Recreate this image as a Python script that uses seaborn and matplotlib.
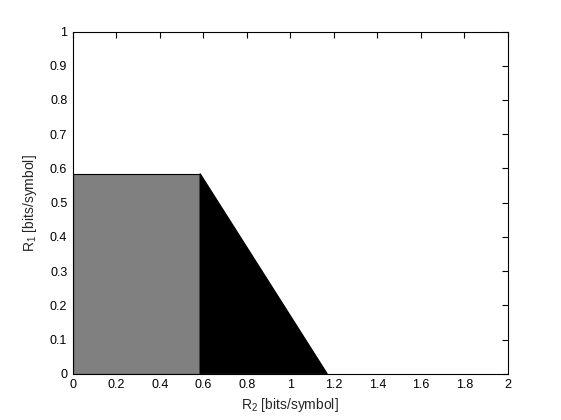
import matplotlib
matplotlib.use("Agg")
import matplotlib.pyplot as plt
import seaborn as sns
from matplotlib.ticker import FuncFormatter

# Data
rate_limit = 0.585          # log2(1.5)
sum_limit = 1.17            # 2 * rate_limit
gray_r2 = [0, rate_limit, rate_limit, 0]
gray_r1 = [0, 0, rate_limit, rate_limit]
black_r2 = [rate_limit, sum_limit, rate_limit]
black_r1 = [0, 0, rate_limit]
xticks = [0, 0.2, 0.4, 0.6, 0.8, 1, 1.2, 1.4, 1.6, 1.8, 2]
yticks = [0, 0.1, 0.2, 0.3, 0.4, 0.5, 0.6, 0.7, 0.8, 0.9, 1]

sns.set_style("white")
plt.rcParams['font.family'] = ['Liberation Sans', 'DejaVu Sans']
plt.rcParams['mathtext.fontset'] = 'custom'
plt.rcParams['mathtext.rm'] = 'Liberation Sans'
plt.rcParams['mathtext.it'] = 'Liberation Sans'

fig = plt.figure(figsize=(5.61, 4.2), dpi=100, facecolor='white')
ax = fig.add_axes([0.13, 0.11, 0.775, 0.815])

ax.fill(gray_r2, gray_r1, facecolor='#808080', edgecolor='black', linewidth=0.8)
ax.fill(black_r2, black_r1, facecolor='black', edgecolor='black', linewidth=0.8)

ax.set_xlim(0, 2)
ax.set_ylim(0, 1)
ax.set_xticks(xticks)
ax.set_yticks(yticks)
fmt = FuncFormatter(lambda v, p: '%g' % v)
ax.xaxis.set_major_formatter(fmt)
ax.yaxis.set_major_formatter(fmt)
ax.tick_params(direction='in', length=4, width=0.8, top=True, right=True,
               labelsize=9, colors='black', pad=4)
for s in ax.spines.values():
    s.set_color('black')
    s.set_linewidth(0.8)
    s.set_visible(True)

ax.set_xlabel(r'$\mathregular{R_2}$ [bits/symbol]', fontsize=10, labelpad=3)
ax.set_ylabel(r'$\mathregular{R_1}$ [bits/symbol]', fontsize=10, labelpad=8)

fig.savefig('out.png', dpi=100, facecolor='white')
